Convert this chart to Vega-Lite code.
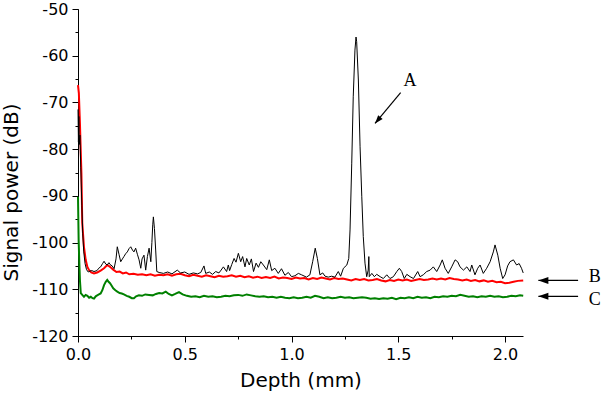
{
  "$schema": "https://vega.github.io/schema/vega-lite/v6.json",
  "width": 445,
  "height": 327,
  "autosize": {"type": "none"},
  "padding": {"left": 78, "top": 9, "right": 79, "bottom": 66},
  "background": "white",
  "config": {
    "view": {"stroke": null},
    "axis": {"grid": false, "domainColor": "black", "tickColor": "black", "labelColor": "black", "titleColor": "black", "labelFont": "DejaVu Sans", "titleFont": "DejaVu Sans", "labelFontSize": 16, "titleFontSize": 20, "titleFontWeight": "normal", "domainWidth": 1, "tickWidth": 1, "labelFlush": false, "labelOverlap": false}
  },
  "datasets": {
    "black": [
      {"d":0,"p":-71.5},{"d":0.002,"p":-78.5},{"d":0.004,"p":-73},{"d":0.006,"p":-79},{"d":0.009,"p":-77},{"d":0.013,"p":-84},{"d":0.018,"p":-92},{"d":0.022,"p":-98},{"d":0.027,"p":-102},{"d":0.033,"p":-104.5},{"d":0.04,"p":-105.8},{"d":0.048,"p":-106.3},{"d":0.056,"p":-106.1},{"d":0.065,"p":-106},{"d":0.075,"p":-106.2},{"d":0.089,"p":-106},{"d":0.097,"p":-105.5},{"d":0.106,"p":-105.2},{"d":0.115,"p":-104.5},{"d":0.122,"p":-104},{"d":0.13,"p":-104.6},{"d":0.137,"p":-104.8},{"d":0.145,"p":-104.3},{"d":0.15,"p":-104.7},{"d":0.16,"p":-105},{"d":0.169,"p":-105.6},{"d":0.178,"p":-103.5},{"d":0.184,"p":-100.9},{"d":0.192,"p":-102.5},{"d":0.2,"p":-104.1},{"d":0.208,"p":-103.5},{"d":0.215,"p":-103},{"d":0.223,"p":-102.4},{"d":0.231,"p":-102},{"d":0.239,"p":-101.3},{"d":0.247,"p":-100.9},{"d":0.255,"p":-101.6},{"d":0.262,"p":-102},{"d":0.27,"p":-101.2},{"d":0.278,"p":-102.5},{"d":0.286,"p":-103.7},{"d":0.294,"p":-105.5},{"d":0.3,"p":-103.5},{"d":0.309,"p":-102.7},{"d":0.317,"p":-105.9},{"d":0.325,"p":-103},{"d":0.333,"p":-101.2},{"d":0.341,"p":-104.1},{"d":0.346,"p":-100},{"d":0.35,"p":-96.2},{"d":0.353,"p":-94.5},{"d":0.358,"p":-97},{"d":0.364,"p":-101.8},{"d":0.369,"p":-106.2},{"d":0.38,"p":-106.4},{"d":0.4,"p":-106.6},{"d":0.42,"p":-106.3},{"d":0.44,"p":-106.7},{"d":0.465,"p":-105.9},{"d":0.48,"p":-106.5},{"d":0.5,"p":-106.3},{"d":0.52,"p":-106.8},{"d":0.54,"p":-106.5},{"d":0.56,"p":-106.7},{"d":0.575,"p":-106.4},{"d":0.59,"p":-105},{"d":0.598,"p":-106.6},{"d":0.615,"p":-106.3},{"d":0.63,"p":-106.8},{"d":0.645,"p":-106.2},{"d":0.66,"p":-106.5},{"d":0.67,"p":-105.9},{"d":0.681,"p":-105.2},{"d":0.696,"p":-106.2},{"d":0.704,"p":-104.8},{"d":0.71,"p":-106},{"d":0.72,"p":-104.7},{"d":0.731,"p":-103.4},{"d":0.74,"p":-104.2},{"d":0.751,"p":-102.3},{"d":0.762,"p":-104.1},{"d":0.771,"p":-103},{"d":0.782,"p":-105.2},{"d":0.79,"p":-103.4},{"d":0.802,"p":-104.8},{"d":0.812,"p":-103.5},{"d":0.822,"p":-106.2},{"d":0.834,"p":-104.4},{"d":0.845,"p":-105.3},{"d":0.856,"p":-104.1},{"d":0.868,"p":-104.8},{"d":0.884,"p":-105.8},{"d":0.896,"p":-103.7},{"d":0.907,"p":-106},{"d":0.922,"p":-105.5},{"d":0.938,"p":-106.6},{"d":0.953,"p":-105.6},{"d":0.969,"p":-107},{"d":0.985,"p":-106.4},{"d":1,"p":-107.3},{"d":1.016,"p":-107.1},{"d":1.032,"p":-106.6},{"d":1.047,"p":-106.9},{"d":1.07,"p":-107.4},{"d":1.086,"p":-106.9},{"d":1.099,"p":-104.1},{"d":1.111,"p":-101.2},{"d":1.121,"p":-103.4},{"d":1.133,"p":-106.9},{"d":1.146,"p":-106.5},{"d":1.157,"p":-107.2},{"d":1.172,"p":-107.4},{"d":1.188,"p":-107.2},{"d":1.203,"p":-107.4},{"d":1.219,"p":-106.2},{"d":1.23,"p":-107.2},{"d":1.243,"p":-105.5},{"d":1.259,"p":-104.8},{"d":1.268,"p":-103.4},{"d":1.274,"p":-97.3},{"d":1.282,"p":-83},{"d":1.289,"p":-68.8},{"d":1.297,"p":-58.8},{"d":1.302,"p":-56},{"d":1.305,"p":-57},{"d":1.313,"p":-65.2},{"d":1.321,"p":-79.5},{"d":1.329,"p":-90.2},{"d":1.336,"p":-98.7},{"d":1.344,"p":-104.4},{"d":1.352,"p":-107.3},{"d":1.359,"p":-105.9},{"d":1.362,"p":-103},{"d":1.364,"p":-107.3},{"d":1.376,"p":-106.6},{"d":1.388,"p":-107.3},{"d":1.399,"p":-106.8},{"d":1.415,"p":-107.3},{"d":1.43,"p":-107.7},{"d":1.446,"p":-106.9},{"d":1.461,"p":-107.7},{"d":1.477,"p":-107.3},{"d":1.493,"p":-106.2},{"d":1.505,"p":-105.5},{"d":1.516,"p":-106.2},{"d":1.528,"p":-107.7},{"d":1.54,"p":-106.8},{"d":1.555,"p":-107.3},{"d":1.571,"p":-107.7},{"d":1.591,"p":-106.2},{"d":1.602,"p":-107.3},{"d":1.617,"p":-106.9},{"d":1.633,"p":-106.2},{"d":1.649,"p":-105.9},{"d":1.664,"p":-105.2},{"d":1.68,"p":-106.2},{"d":1.696,"p":-104.8},{"d":1.706,"p":-103.7},{"d":1.719,"p":-105.5},{"d":1.734,"p":-106.6},{"d":1.75,"p":-105.2},{"d":1.766,"p":-103.7},{"d":1.778,"p":-104.1},{"d":1.789,"p":-105.2},{"d":1.805,"p":-105.9},{"d":1.821,"p":-105.2},{"d":1.836,"p":-106.2},{"d":1.844,"p":-104.8},{"d":1.859,"p":-106.9},{"d":1.872,"p":-105.5},{"d":1.883,"p":-104.8},{"d":1.898,"p":-106.6},{"d":1.914,"p":-105.5},{"d":1.93,"p":-104.1},{"d":1.945,"p":-102},{"d":1.953,"p":-100.5},{"d":1.966,"p":-102.7},{"d":1.977,"p":-105.5},{"d":1.989,"p":-107.7},{"d":2,"p":-106.9},{"d":2.012,"p":-105},{"d":2.023,"p":-104.1},{"d":2.039,"p":-103.7},{"d":2.054,"p":-104.8},{"d":2.066,"p":-104.5},{"d":2.077,"p":-105.5},{"d":2.085,"p":-106.5}
    ],
    "red": [
      {"d":0,"p":-66.3},{"d":0.004,"p":-68},{"d":0.009,"p":-74.4},{"d":0.016,"p":-85.1},{"d":0.02,"p":-95.8},{"d":0.028,"p":-101},{"d":0.036,"p":-103.7},{"d":0.044,"p":-105.2},{"d":0.052,"p":-105.9},{"d":0.062,"p":-106.4},{"d":0.075,"p":-106.6},{"d":0.09,"p":-106.4},{"d":0.106,"p":-106},{"d":0.122,"p":-105.5},{"d":0.137,"p":-104.8},{"d":0.15,"p":-105.2},{"d":0.165,"p":-105.8},{"d":0.18,"p":-106.3},{"d":0.195,"p":-106.2},{"d":0.21,"p":-106.6},{"d":0.225,"p":-106.4},{"d":0.24,"p":-106.8},{"d":0.26,"p":-106.7},{"d":0.28,"p":-106.9},{"d":0.3,"p":-106.8},{"d":0.32,"p":-107},{"d":0.34,"p":-106.8},{"d":0.36,"p":-107.1},{"d":0.38,"p":-106.9},{"d":0.4,"p":-107},{"d":0.42,"p":-106.8},{"d":0.44,"p":-107.1},{"d":0.46,"p":-106.8},{"d":0.48,"p":-106.7},{"d":0.5,"p":-107},{"d":0.52,"p":-107.2},{"d":0.54,"p":-106.9},{"d":0.56,"p":-107.1},{"d":0.58,"p":-107.3},{"d":0.6,"p":-107},{"d":0.62,"p":-107.2},{"d":0.64,"p":-107.4},{"d":0.66,"p":-107.1},{"d":0.68,"p":-107.3},{"d":0.7,"p":-107.2},{"d":0.72,"p":-107},{"d":0.74,"p":-107.3},{"d":0.76,"p":-107.1},{"d":0.78,"p":-107.4},{"d":0.8,"p":-107.2},{"d":0.82,"p":-107.5},{"d":0.84,"p":-107.3},{"d":0.86,"p":-107.6},{"d":0.88,"p":-107.4},{"d":0.9,"p":-107.6},{"d":0.92,"p":-107.3},{"d":0.94,"p":-107.7},{"d":0.96,"p":-107.5},{"d":0.98,"p":-107.6},{"d":1,"p":-107.8},{"d":1.02,"p":-107.5},{"d":1.04,"p":-107.7},{"d":1.06,"p":-107.6},{"d":1.08,"p":-107.9},{"d":1.1,"p":-107.6},{"d":1.12,"p":-107.8},{"d":1.14,"p":-107.5},{"d":1.16,"p":-107.7},{"d":1.18,"p":-107.9},{"d":1.2,"p":-107.6},{"d":1.22,"p":-107.8},{"d":1.24,"p":-107.7},{"d":1.26,"p":-107.9},{"d":1.28,"p":-108.1},{"d":1.3,"p":-107.8},{"d":1.32,"p":-108},{"d":1.34,"p":-107.8},{"d":1.36,"p":-108.1},{"d":1.38,"p":-108},{"d":1.4,"p":-107.8},{"d":1.42,"p":-108.1},{"d":1.44,"p":-108.3},{"d":1.46,"p":-108},{"d":1.48,"p":-108.2},{"d":1.5,"p":-107.9},{"d":1.52,"p":-108.1},{"d":1.54,"p":-107.9},{"d":1.56,"p":-108.2},{"d":1.58,"p":-108},{"d":1.6,"p":-107.8},{"d":1.62,"p":-108},{"d":1.64,"p":-107.9},{"d":1.66,"p":-107.7},{"d":1.68,"p":-107.9},{"d":1.7,"p":-107.7},{"d":1.72,"p":-107.9},{"d":1.74,"p":-107.6},{"d":1.76,"p":-107.8},{"d":1.78,"p":-107.9},{"d":1.8,"p":-108.1},{"d":1.82,"p":-107.9},{"d":1.84,"p":-108.2},{"d":1.86,"p":-108},{"d":1.88,"p":-108.3},{"d":1.9,"p":-108.1},{"d":1.92,"p":-108.4},{"d":1.94,"p":-108.2},{"d":1.96,"p":-108.5},{"d":1.98,"p":-108.4},{"d":2,"p":-108.7},{"d":2.02,"p":-108.6},{"d":2.04,"p":-108.4},{"d":2.06,"p":-108.2},{"d":2.085,"p":-108.1}
    ],
    "green": [
      {"d":0,"p":-90.2},{"d":0.003,"p":-99.5},{"d":0.006,"p":-104},{"d":0.009,"p":-108},{"d":0.013,"p":-110.8},{"d":0.02,"p":-111.2},{"d":0.028,"p":-111.6},{"d":0.036,"p":-111.2},{"d":0.044,"p":-111.4},{"d":0.052,"p":-111.8},{"d":0.06,"p":-111.6},{"d":0.068,"p":-111.9},{"d":0.075,"p":-112},{"d":0.083,"p":-111.5},{"d":0.09,"p":-111.3},{"d":0.098,"p":-111.1},{"d":0.106,"p":-110.9},{"d":0.114,"p":-110.2},{"d":0.122,"p":-109.1},{"d":0.13,"p":-108.4},{"d":0.137,"p":-108},{"d":0.143,"p":-108.4},{"d":0.15,"p":-108.7},{"d":0.157,"p":-109.2},{"d":0.165,"p":-109.8},{"d":0.175,"p":-110.2},{"d":0.184,"p":-110.5},{"d":0.195,"p":-110.8},{"d":0.205,"p":-110.9},{"d":0.215,"p":-111.1},{"d":0.228,"p":-111.4},{"d":0.24,"p":-111.6},{"d":0.252,"p":-111.9},{"d":0.262,"p":-111.9},{"d":0.272,"p":-111.5},{"d":0.285,"p":-111.3},{"d":0.3,"p":-111.4},{"d":0.315,"p":-111.1},{"d":0.333,"p":-111.2},{"d":0.35,"p":-111.3},{"d":0.365,"p":-111},{"d":0.38,"p":-110.8},{"d":0.395,"p":-110.9},{"d":0.411,"p":-110.5},{"d":0.425,"p":-111},{"d":0.44,"p":-111.3},{"d":0.455,"p":-111},{"d":0.473,"p":-110.6},{"d":0.49,"p":-111.1},{"d":0.51,"p":-111.4},{"d":0.53,"p":-111.6},{"d":0.55,"p":-111.5},{"d":0.57,"p":-111.7},{"d":0.59,"p":-111.4},{"d":0.61,"p":-111.6},{"d":0.63,"p":-111.5},{"d":0.65,"p":-111.7},{"d":0.67,"p":-111.6},{"d":0.69,"p":-111.4},{"d":0.71,"p":-111.5},{"d":0.73,"p":-111.3},{"d":0.75,"p":-111.2},{"d":0.77,"p":-111.4},{"d":0.79,"p":-111.1},{"d":0.81,"p":-111.3},{"d":0.83,"p":-111.5},{"d":0.85,"p":-111.6},{"d":0.87,"p":-111.5},{"d":0.89,"p":-111.7},{"d":0.91,"p":-111.6},{"d":0.93,"p":-111.8},{"d":0.95,"p":-111.6},{"d":0.97,"p":-111.8},{"d":0.99,"p":-111.9},{"d":1.01,"p":-111.7},{"d":1.03,"p":-111.9},{"d":1.05,"p":-111.8},{"d":1.07,"p":-111.6},{"d":1.09,"p":-111.8},{"d":1.11,"p":-111.4},{"d":1.13,"p":-111.6},{"d":1.15,"p":-111.9},{"d":1.17,"p":-111.7},{"d":1.19,"p":-111.9},{"d":1.21,"p":-111.8},{"d":1.23,"p":-111.6},{"d":1.25,"p":-111.8},{"d":1.27,"p":-111.7},{"d":1.29,"p":-111.9},{"d":1.31,"p":-111.8},{"d":1.33,"p":-111.7},{"d":1.35,"p":-111.8},{"d":1.37,"p":-112},{"d":1.39,"p":-111.9},{"d":1.41,"p":-112.1},{"d":1.43,"p":-111.9},{"d":1.45,"p":-112},{"d":1.47,"p":-111.8},{"d":1.49,"p":-112.1},{"d":1.51,"p":-111.8},{"d":1.53,"p":-111.9},{"d":1.55,"p":-111.7},{"d":1.57,"p":-111.9},{"d":1.59,"p":-111.6},{"d":1.61,"p":-111.8},{"d":1.63,"p":-111.7},{"d":1.65,"p":-111.9},{"d":1.67,"p":-111.6},{"d":1.69,"p":-111.7},{"d":1.71,"p":-111.5},{"d":1.73,"p":-111.6},{"d":1.75,"p":-111.4},{"d":1.77,"p":-111.5},{"d":1.79,"p":-111.2},{"d":1.81,"p":-111.4},{"d":1.83,"p":-111.6},{"d":1.85,"p":-111.5},{"d":1.87,"p":-111.7},{"d":1.89,"p":-111.5},{"d":1.91,"p":-111.6},{"d":1.93,"p":-111.4},{"d":1.95,"p":-111.6},{"d":1.97,"p":-111.5},{"d":1.99,"p":-111.7},{"d":2.01,"p":-111.6},{"d":2.03,"p":-111.4},{"d":2.05,"p":-111.5},{"d":2.07,"p":-111.3},{"d":2.085,"p":-111.4}
    ],
    "arrows": [
      {"x":1.391,"y":-74.5,"x2":1.511,"y2":-67.9},
      {"x":2.156,"y":-108.1,"x2":2.342,"y2":-108.1},
      {"x":2.156,"y":-111.5,"x2":2.342,"y2":-111.5}
    ],
    "headA": [{"x":1.391,"y":-74.5}],
    "headBC": [{"x":2.156,"y":-108.1},{"x":2.156,"y":-111.5}],
    "labels": [
      {"x":1.555,"y":-65.5,"t":"A"},
      {"x":2.42,"y":-107.4,"t":"B"},
      {"x":2.42,"y":-112.2,"t":"C"}
    ]
  },
  "layer": [
    {
      "data": {"name": "red"},
      "mark": {"type": "line", "color": "#ff0000", "strokeWidth": 2},
      "encoding": {
        "x": {"field": "d", "type": "quantitative", "scale": {"domain": [0, 2.084], "nice": false, "zero": false},
          "axis": {"orient": "bottom", "values": [0, 0.25, 0.5, 0.75, 1, 1.25, 1.5, 1.75, 2], "tickSize": 3, "labels": false, "domain": false, "title": null}},
        "y": {"field": "p", "type": "quantitative", "scale": {"domain": [-120, -50], "nice": false, "zero": false},
          "axis": {"orient": "left", "values": [-120, -115, -110, -105, -100, -95, -90, -85, -80, -75, -70, -65, -60, -55, -50], "tickSize": 3, "labels": false, "domain": false, "title": null}}
      }
    },
    {
      "data": {"name": "black"},
      "mark": {"type": "line", "color": "#000000", "strokeWidth": 1},
      "encoding": {
        "x": {"field": "d", "type": "quantitative",
          "axis": {"orient": "bottom", "values": [0, 0.5, 1, 1.5, 2], "labelExpr": "format(datum.value, '.1f')", "tickSize": 6, "labelPadding": 4, "title": "Depth (mm)", "titlePadding": 8}},
        "y": {"field": "p", "type": "quantitative",
          "axis": {"orient": "left", "values": [-120, -110, -100, -90, -80, -70, -60, -50], "labelExpr": "replace(datum.label, '\u2212', '-')", "tickSize": 6, "labelPadding": 4, "title": "Signal power (dB)", "titleX": -57, "titleY": 183}}
      }
    },
    {
      "data": {"name": "green"},
      "mark": {"type": "line", "color": "#008000", "strokeWidth": 2},
      "encoding": {
        "x": {"field": "d", "type": "quantitative", "axis": null},
        "y": {"field": "p", "type": "quantitative", "axis": null}
      }
    },
    {
      "data": {"name": "arrows"},
      "mark": {"type": "rule", "color": "#000000", "strokeWidth": 1.2},
      "encoding": {
        "x": {"field": "x", "type": "quantitative", "axis": null},
        "y": {"field": "y", "type": "quantitative", "axis": null},
        "x2": {"field": "x2"},
        "y2": {"field": "y2"}
      }
    },
    {
      "data": {"name": "headA"},
      "mark": {"type": "point", "shape": "M0,0L2,-0.7L2,0.7Z", "size": 70, "filled": true, "color": "#000000", "opacity": 1, "angle": 310},
      "encoding": {
        "x": {"field": "x", "type": "quantitative", "axis": null},
        "y": {"field": "y", "type": "quantitative", "axis": null}
      }
    },
    {
      "data": {"name": "headBC"},
      "mark": {"type": "point", "shape": "M0,0L2,-0.7L2,0.7Z", "size": 100, "filled": true, "color": "#000000", "opacity": 1},
      "encoding": {
        "x": {"field": "x", "type": "quantitative", "axis": null},
        "y": {"field": "y", "type": "quantitative", "axis": null}
      }
    },
    {
      "data": {"name": "labels"},
      "mark": {"type": "text", "font": "Liberation Serif", "fontSize": 18, "color": "#000000", "align": "center", "baseline": "middle"},
      "encoding": {
        "x": {"field": "x", "type": "quantitative", "axis": null},
        "y": {"field": "y", "type": "quantitative", "axis": null},
        "text": {"field": "t"}
      }
    }
  ],
  "resolve": {"axis": {"x": "independent", "y": "independent"}}
}
